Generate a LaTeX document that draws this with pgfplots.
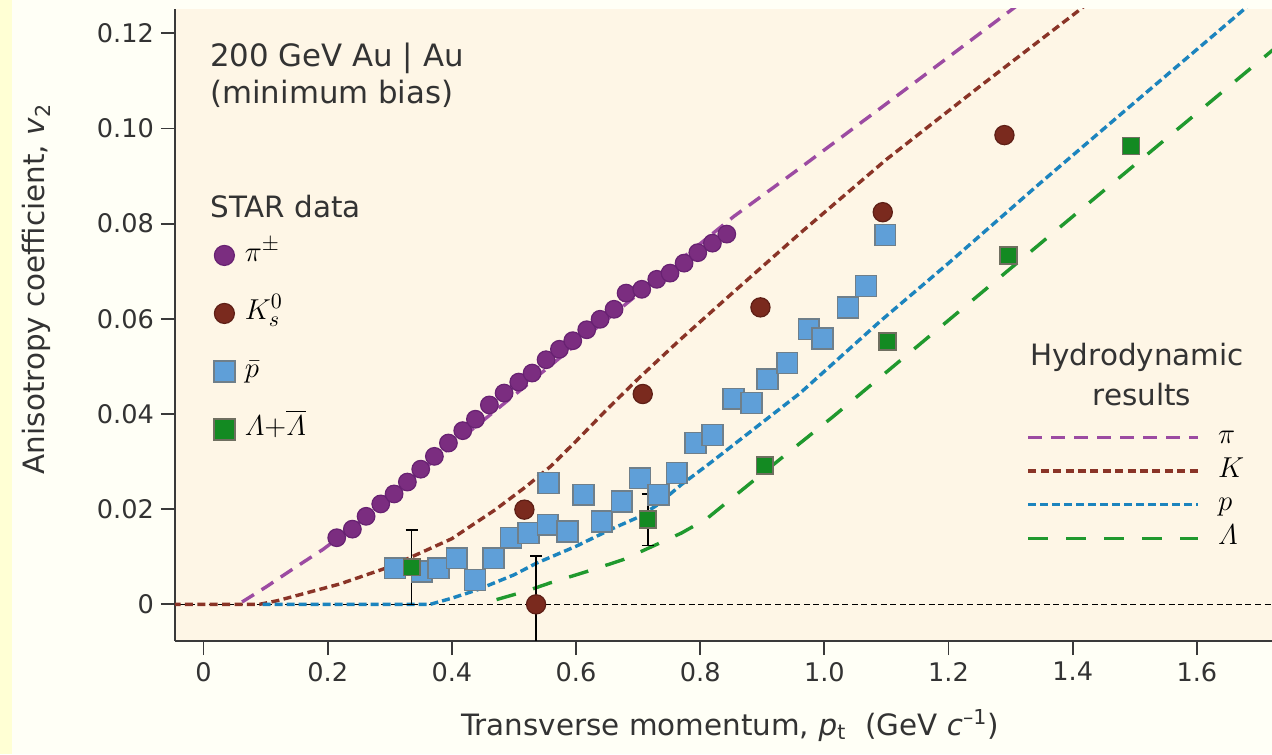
\documentclass[border=0pt]{standalone}
\usepackage{amsmath}
\usepackage{fontspec}
\setmainfont{DejaVu Sans}
\usepackage{pgfplots}
\pgfplotsset{compat=1.18}

\definecolor{outerbg}{HTML}{FFFFF6}
\definecolor{stripe}{HTML}{FFFFD4}
\definecolor{panel}{HTML}{FEF6E6}
\definecolor{axisgray}{HTML}{3A3A3A}
\definecolor{txt}{HTML}{333333}
\definecolor{pionfill}{HTML}{7B2D80}
\definecolor{piondraw}{HTML}{682272}
\definecolor{kaonfill}{HTML}{7A2A1E}
\definecolor{kaondraw}{HTML}{5E1F16}
\definecolor{pbarfill}{HTML}{5F9FD8}
\definecolor{pbardraw}{HTML}{6F7F8A}
\definecolor{lamfill}{HTML}{138A22}
\definecolor{lamdraw}{HTML}{6F6F60}
\definecolor{hpi}{HTML}{9C4BA2}
\definecolor{hk}{HTML}{8A3427}
\definecolor{hp}{HTML}{1C84BE}
\definecolor{hl}{HTML}{20992E}

\newcommand{\lbl}{\fontsize{14.7}{17.6}\selectfont}
\newcommand{\ttl}{\fontsize{15.4}{18}\selectfont}
\newcommand{\tck}{\fontsize{12.8}{15}\selectfont}

\pgfplotsset{
  frame/.style={
    width=548.5pt, height=316pt, scale only axis,
    at={(0pt,0pt)}, anchor=south west,
    xmin=-0.046, xmax=1.721, ymin=-0.0077, ymax=0.1251,
  },
  pionmark/.style={only marks, mark=*, mark size=4.4pt,
    mark options={fill=pionfill, draw=piondraw, line width=0.6pt}},
  kaonmark/.style={only marks, mark=*, mark size=4.8pt,
    mark options={fill=kaonfill, draw=kaondraw, line width=0.6pt}},
  pbarmark/.style={only marks, mark=square*, mark size=5.2pt,
    mark options={fill=pbarfill, draw=pbardraw, line width=0.8pt}},
  lammark/.style={only marks, mark=square*, mark size=4.2pt,
    mark options={fill=lamfill, draw=lamdraw, line width=0.8pt}},
}

\begin{document}
\begin{tikzpicture}
\fill[outerbg] (-87.5pt,-56.5pt) rectangle (548.5pt,320.5pt);
\fill[stripe] (-87.5pt,-56.5pt) rectangle (-81.5pt,320.5pt);

% frame, ticks and hydrodynamic curves
\begin{axis}[
  frame,
  axis background/.style={fill=panel},
  axis lines=left,
  axis line style={-, draw=axisgray, line width=1pt},
  tick align=outside, major tick length=7pt,
  tick style={draw=axisgray, line width=0.9pt},
  xtick={0,0.2,0.4,0.6,0.8,1.0,1.2,1.4,1.6},
  xticklabels={0,0.2,0.4,0.6,0.8,1.0,1.2,1.4,1.6},
  ytick={0,0.02,0.04,0.06,0.08,0.10,0.12},
  yticklabels={0,0.02,0.04,0.06,0.08,0.10,0.12},
  ticklabel style={font=\tck, text=txt},
  legend style={at={(0.776,0.348)}, anchor=north west, draw=none, fill=none,
    inner sep=0pt, column sep=9pt, row sep=0.8pt, font=\fontsize{15.5}{18}\selectfont,
    nodes={inner sep=0pt, text height=11pt, text depth=5pt}},
  legend cell align=left,
  legend image code/.code={\draw[#1] (0pt,0pt) -- (85pt,0pt);},
]
\addplot[forget plot, draw=black, line width=0.6pt, dash pattern=on 3pt off 1.8pt]
  coordinates {(-0.1,0) (1.8,0)};

\addplot[hpi, line width=1.7pt, dash pattern=on 7pt off 4.5pt] coordinates {
  (0.062,0.0005) (0.1,0.0036) (0.14,0.0071) (0.193,0.0116) (0.25,0.0172)
  (0.3,0.0226) (0.4,0.0333) (0.5,0.0439) (0.6,0.0546) (0.7,0.0652)
  (0.854,0.0815) (0.961,0.0917) (1.1,0.1052) (1.302,0.125) (1.35,0.1297)};
\addlegendentry{$\pi$}
\addplot[hk, line width=1.7pt, dash pattern=on 4pt off 2.2pt] coordinates {
  (-0.05,0) (0.09,0) (0.12,0.0008) (0.16,0.0022) (0.22,0.0043) (0.3,0.0079)
  (0.4,0.0138) (0.47,0.0199) (0.52,0.0248) (0.56,0.0291) (0.6,0.0343)
  (0.65,0.041) (0.7,0.0474) (0.7675,0.0556) (0.85,0.0652) (0.961,0.078)
  (1.1,0.0935) (1.25,0.1088) (1.407,0.1245) (1.45,0.129)};
\addlegendentry{$K$}
\addplot[hp, line width=1.7pt, dash pattern=on 4pt off 2pt] coordinates {
  (0.095,0) (0.365,0) (0.4,0.0013) (0.44,0.003) (0.5,0.0062) (0.537,0.0087)
  (0.6,0.0122) (0.655,0.0157) (0.7,0.0183) (0.73,0.0208) (0.77,0.0252)
  (0.816,0.0297) (0.88,0.0362) (0.961,0.0444) (1.09,0.0595) (1.2,0.0717)
  (1.343,0.088) (1.5,0.1055) (1.637,0.1207) (1.7,0.1277)};
\addlegendentry{$p$}
\addplot[hl, line width=1.7pt, dash pattern=on 10pt off 9pt] coordinates {
  (0.472,0.001) (0.52,0.0028) (0.558,0.0045) (0.62,0.007) (0.676,0.0094)
  (0.73,0.0126) (0.77,0.015) (0.8106,0.018) (0.9,0.0275) (1.0145,0.0395)
  (1.2,0.0597) (1.4,0.0815) (1.632,0.1067) (1.75,0.1195)};
\addlegendentry{$\varLambda$}
\end{axis}

% STAR measurements
\begin{axis}[
  frame, hide axis,
  legend style={at={(0.0351,0.636)}, anchor=north west, draw=none, fill=none,
    inner sep=0pt, column sep=5pt, row sep=13pt, font=\fontsize{15.5}{18}\selectfont,
    nodes={inner sep=0pt, text height=11pt, text depth=5pt}},
  legend cell align=left,
  legend image code/.code={\draw[#1] plot coordinates {(5.5pt,0pt)};},
]
\addplot[forget plot, pbarmark] coordinates {
  (0.3085,0.0076) (0.3515,0.0069) (0.3783,0.0076) (0.4079,0.0097) (0.4373,0.0051)
  (0.4668,0.0097) (0.4953,0.0140) (0.5232,0.0150) (0.5544,0.0167) (0.5554,0.0255)
  (0.586,0.0153) (0.6118,0.0230) (0.6414,0.0174) (0.6736,0.0216) (0.7031,0.0265)
  (0.7326,0.0230) (0.7622,0.0276) (0.7925,0.0339) (0.8200,0.0356) (0.8537,0.0432)
  (0.8826,0.0423) (0.9085,0.0473) (0.940,0.0507) (0.975,0.0578) (0.997,0.0559)
  (1.038,0.0624) (1.067,0.0669) (1.098,0.0776)};
\addplot[forget plot, only marks, mark=none,
  error bars/.cd, y dir=both, y explicit,
  error bar style={solid, draw=black, line width=0.75pt},
  error mark options={rotate=90, mark size=3pt, draw=black, line width=0.75pt}]
  coordinates {(0.3353,0.0078) +- (0,0.0078)
               (0.7155,0.0178) +- (0,0.0054)
               (0.5356,0.0) +- (0,0.0102)};
\addplot[forget plot, pionmark] coordinates {
  (0.2145,0.0140) (0.2397,0.0158) (0.2618,0.0185) (0.2854,0.0211) (0.3069,0.0232)
  (0.3283,0.0257) (0.3498,0.0284) (0.3718,0.0311) (0.3944,0.0339) (0.4175,0.0365)
  (0.4379,0.0389) (0.4604,0.0419) (0.4841,0.0444) (0.5077,0.0467) (0.5292,0.0486)
  (0.5517,0.0514) (0.5732,0.0536) (0.5947,0.0554) (0.6172,0.0577) (0.6387,0.0599)
  (0.6612,0.0620) (0.6806,0.0654) (0.7058,0.0662) (0.7300,0.0683) (0.7514,0.0696)
  (0.7740,0.0717) (0.7961,0.0739) (0.8196,0.0759) (0.8428,0.0778)};
\addplot[forget plot, kaonmark] coordinates {
  (0.5168,0.0199) (0.5356,0.0) (0.7074,0.0442) (0.897,0.0624) (1.094,0.0824) (1.290,0.0986)};
\addplot[forget plot, lammark] coordinates {
  (0.3353,0.0078) (0.7155,0.0178) (0.9039,0.0292) (1.1015,0.0552) (1.2964,0.0733) (1.494,0.0963)};

\addlegendimage{only marks, mark=*, mark size=5pt, mark options={fill=pionfill, draw=piondraw, line width=0.6pt}}
\addlegendentry{$\pi^{\pm}$}
\addlegendimage{only marks, mark=*, mark size=5pt, mark options={fill=kaonfill, draw=kaondraw, line width=0.6pt}}
\addlegendentry{$K^{0}_{s}$}
\addlegendimage{only marks, mark=square*, mark size=5.25pt, mark options={fill=pbarfill, draw=pbardraw, line width=0.8pt}}
\addlegendentry{$\bar{p}$}
\addlegendimage{only marks, mark=square*, mark size=5.25pt, mark options={fill=lamfill, draw=lamdraw, line width=0.8pt}}
\addlegendentry{$\varLambda{+}\overline{\varLambda}$}
\end{axis}

% annotations
\node[anchor=base west, font=\ttl, text=txt, inner sep=0pt] at (17.5pt,287pt) {200 GeV Au | Au};
\node[anchor=base west, font=\ttl, text=txt, inner sep=0pt] at (17.5pt,268.5pt) {(minimum bias)};
\node[anchor=base west, font=\lbl, text=txt, inner sep=0pt] at (17.5pt,211.5pt) {STAR data};
\node[anchor=base, font=\lbl, text=txt, inner sep=0pt] at (481pt,137.5pt) {Hydrodynamic};
\node[anchor=base, font=\lbl, text=txt, inner sep=0pt] at (483.5pt,117.5pt) {results};
\node[anchor=base, rotate=90, font=\lbl, text=txt, inner sep=0pt] at (-65pt,176pt)
  {Anisotropy coefficient, \textit{v}\textsubscript{2}};
\node[anchor=base, font=\lbl, text=txt, inner sep=0pt] at (277.5pt,-47pt)
  {Transverse momentum, \textit{p}\textsubscript{t}\ \ (GeV \textit{c}\textsuperscript{–1})};

\pgfresetboundingbox
\path (-87.5pt,-56.5pt) rectangle (548.5pt,320.5pt);
\end{tikzpicture}
\end{document}
